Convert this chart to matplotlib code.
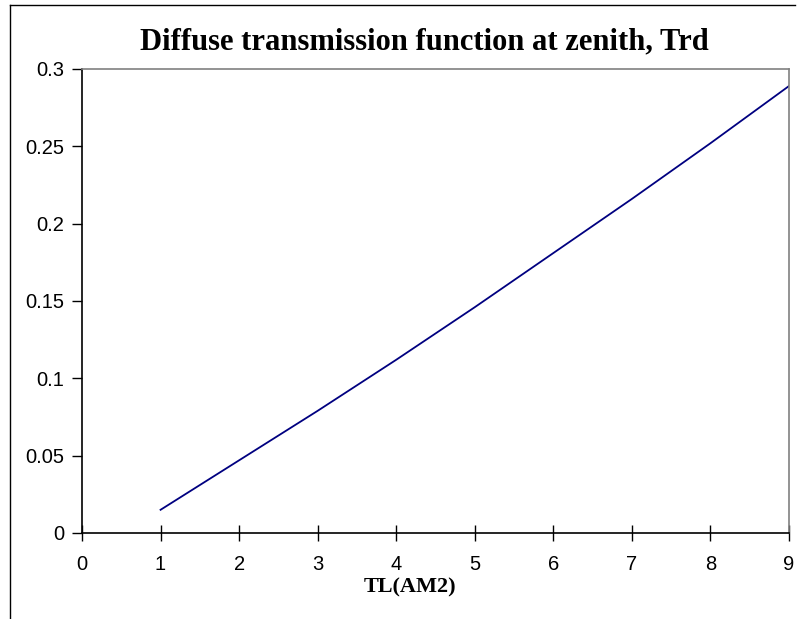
import matplotlib
matplotlib.use('Agg')
import matplotlib.pyplot as plt
from matplotlib.lines import Line2D

# data
tl = [1, 2, 3, 4, 5, 6, 7, 8, 9]
trd = [0.015, 0.047, 0.079, 0.112, 0.146, 0.181, 0.216, 0.252, 0.289]
xticks = [0, 1, 2, 3, 4, 5, 6, 7, 8, 9]
yticks = [0, 0.05, 0.1, 0.15, 0.2, 0.25, 0.3]
ytick_labels = ['0', '0.05', '0.1', '0.15', '0.2', '0.25', '0.3']

W, H = 799, 619
fig = plt.figure(figsize=(W / 100, H / 100), dpi=100)
ax = fig.add_axes([82 / W, 1 - 533 / H, (789 - 82) / W, (533 - 69) / H])

ax.plot(tl, trd, color='#000080', linewidth=1.3)

ax.set_xlim(0, 9)
ax.set_ylim(0, 0.3)
ax.set_xticks(xticks)
ax.set_yticks(yticks)
ax.set_yticklabels(ytick_labels)

for lab in ax.get_xticklabels() + ax.get_yticklabels():
    lab.set_family('Liberation Sans')
    lab.set_fontsize(14.5)

ax.tick_params(axis='x', direction='inout', length=12, width=1, pad=10)
ax.tick_params(axis='y', direction='out', length=7, width=1, pad=6)

ax.spines['top'].set_color('#808080')
ax.spines['right'].set_color('#808080')
ax.spines['left'].set_color('black')
ax.spines['bottom'].set_color('black')
for s in ax.spines.values():
    s.set_linewidth(1.2)

fig.text(424 / W, 1 - 42 / H, 'Diffuse transmission function at zenith, Trd',
         ha='center', va='center', family='Liberation Serif',
         fontweight='bold', fontsize=22)
fig.text(410 / W, 1 - 587 / H, 'TL(AM2)', ha='center', va='center',
         family='Liberation Serif', fontweight='bold', fontsize=16)

# outer frame (left and top edges only visible)
fig.add_artist(Line2D([9.5 / W, 9.5 / W], [0, 1 - 5 / H], color='black',
                      linewidth=1, transform=fig.transFigure))
fig.add_artist(Line2D([9.5 / W, 795 / W], [1 - 5 / H, 1 - 5 / H], color='black',
                      linewidth=1, transform=fig.transFigure))

fig.savefig('out.png', dpi=100)
